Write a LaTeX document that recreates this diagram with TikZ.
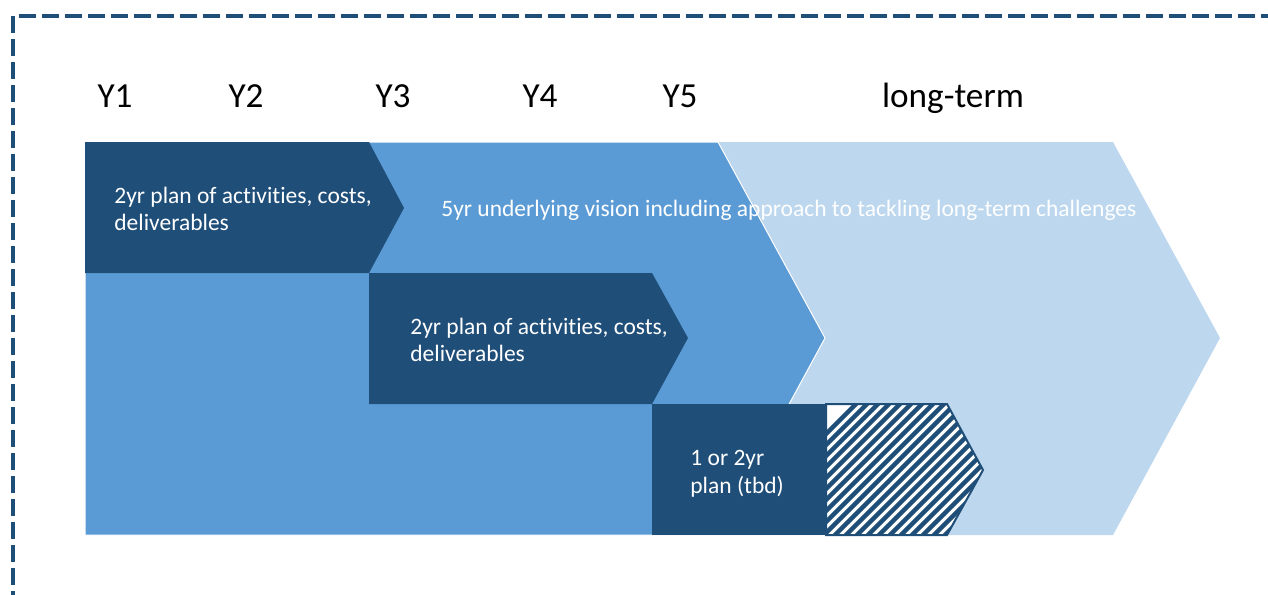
\documentclass[tikz,border=0pt]{standalone}
\usepackage{fontspec}
\setmainfont{Carlito}[Ligatures=NoCommon]
\definecolor{darkblue}{HTML}{1F4E79}
\definecolor{midblue}{HTML}{5B9BD5}
\definecolor{paleblue}{HTML}{BDD7EE}
\begin{document}
\begin{tikzpicture}[x=0.5pt,y=-0.5pt,
  yearlabel/.style={inner sep=0pt,anchor=base,font=\fontsize{17.6}{20}\selectfont,text=black},
  boxtext/.style={inner sep=0pt,anchor=base west,font=\fontsize{11.75}{13.5}\selectfont,text=white},
  frame/.style={draw=darkblue,line width=2pt,dash pattern=on 8.5pt off 3pt}]
\useasboundingbox (0,0) rectangle (1268,594);
% outer dashed frame (continues past the page edges)
\begin{scope}
\clip (0,0) rectangle (1268,594);
\draw[frame] (13,700) -- (13,16) -- (1400,16);
\end{scope}
% long-term chevron
\fill[paleblue] (718,142) -- (1113,142) -- (1220,338) -- (1113,535) -- (718,535) -- (825,338) -- cycle;
% 5-year vision band
\filldraw[fill=midblue,draw=white,line width=0.5pt] (85,142) -- (718,142) -- (825,338) -- (718,535) -- (85,535) -- cycle;
% first 2-year plan
\fill[darkblue] (85,142) -- (369,142) -- (404,208) -- (369,273) -- (85,273) -- cycle;
% second 2-year plan
\fill[darkblue] (369,273) -- (652,273) -- (688,338) -- (652,404) -- (369,404) -- cycle;
% 1 or 2 year plan
\fill[darkblue] (652,404) rectangle (826,535);
% hatched continuation
\begin{scope}
\clip (826,404) -- (947,404) -- (983,470) -- (947,535) -- (826,535) -- cycle;
\fill[white] (820,400) rectangle (990,540);
\foreach \k in {0,...,30} {
  \draw[darkblue,line width=2.2pt] (700+11*\k,560) -- ++(180,-180);
}
\end{scope}
\draw[darkblue,line width=1pt] (826,404) -- (947,404) -- (983,470) -- (947,535) -- (826,535) -- cycle;
% year labels
\node[yearlabel] (y1) at (115,107) {Y1};
\node[yearlabel] (y2) at (246,107) {Y2};
\node[yearlabel] (y3) at (393,107) {Y3};
\node[yearlabel] (y4) at (540,107) {Y4};
\node[yearlabel] (y5) at (680,107) {Y5};
\node[yearlabel] (lt) at (953,107) {long-term};
% texts in the bands
\node[boxtext] (pa1) at (114,203) {2yr plan of activities, costs,};
\node[boxtext] (pa2) at (114,230) {deliverables};
\node[boxtext] (vis) at (441,216) {5yr underlying vision including approach to tackling long-term challenges};
\node[boxtext] (pb1) at (410,334) {2yr plan of activities, costs,};
\node[boxtext] (pb2) at (410,361) {deliverables};
\node[boxtext] (pc1) at (690,465) {1 or 2yr};
\node[boxtext] (pc2) at (690,493) {plan (tbd)};
\end{tikzpicture}
\end{document}
